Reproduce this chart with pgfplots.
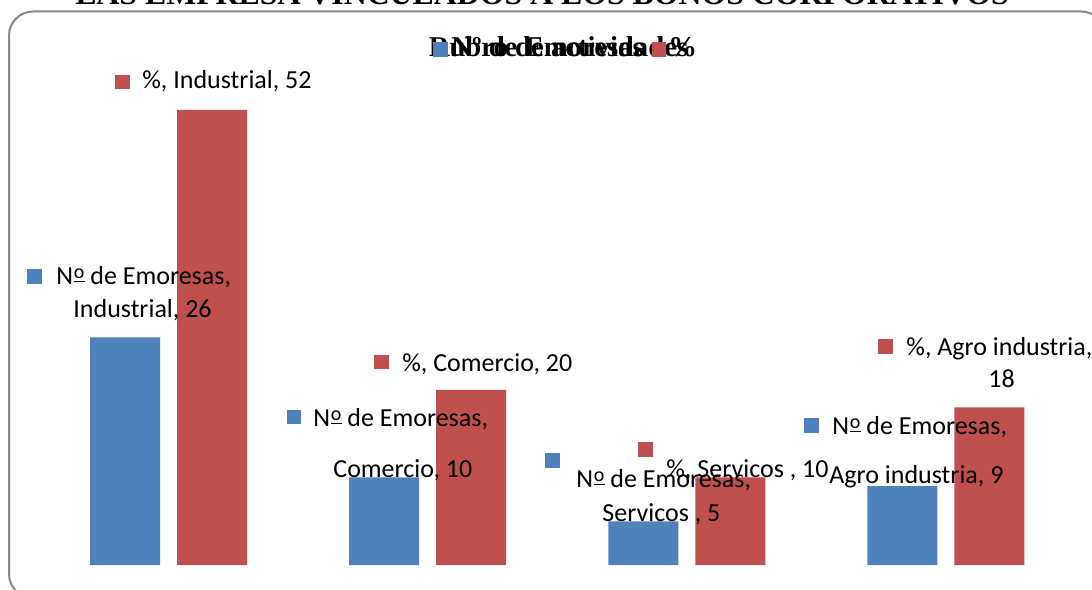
\documentclass[border=0pt]{standalone}
\usepackage{pgfplots}
\pgfplotsset{compat=1.18}
\usepackage{fontspec}
\setmainfont{Carlito}
\newfontfamily\tnr{Liberation Serif}
\definecolor{cblue}{HTML}{4F81BD}
\definecolor{cred}{HTML}{C0504D}
\definecolor{bordergray}{HTML}{878787}
\newcommand\lbl{\fontsize{13}{15.6}\selectfont}
\newcommand\nro{N\kern0.4pt\raisebox{0.26em}{$\underline{\hbox{\fontsize{10}{10}\selectfont o}}$}}
\begin{document}
\begin{tikzpicture}
\path[use as bounding box, clip] (0,0) rectangle (546pt,294.5pt);
\begin{scope}[shift={(0pt,294.5pt)}, x=0.5pt, y=-0.5pt]
  \draw[bordergray, line width=1pt, rounded corners=12pt] (9,11.5) rectangle (1105,598);
  \node[anchor=base, inner sep=0pt, font={\tnr\bfseries\fontsize{15.9}{18}\selectfont}] at (542,4.5) {LAS EMPRESA VINCULADOS A LOS BONOS CORPORATIVOS};
\end{scope}
\begin{axis}[
  at={(19.5pt,12pt)}, anchor=south west,
  scale only axis, width=518.25pt, height=262.5pt,
  xmin=-0.5, xmax=3.5, ymin=0, ymax=60,
  hide axis, clip=false,
  ybar=8.5pt, bar width=35pt,
  xtick={0,1,2,3},
  xticklabels={Industrial, Comercio, Servicos, Agro industria},
]
\addplot[fill=cblue, draw=none] coordinates {(0,26) (1,10) (2,5) (3,9)};
\addplot[fill=cred, draw=none] coordinates {(0,52) (1,20) (2,10) (3,18)};
\end{axis}
\begin{scope}[shift={(0pt,294.5pt)}, x=0.5pt, y=-0.5pt]
  % chart title and legend (overlapping as in the original)
  \node[anchor=base, inner sep=0pt, font={\tnr\bfseries\fontsize{14.35}{17}\selectfont}] at (558.5,57) {Rubro de actividades};
  \fill[cblue] (433,42) rectangle (448,57);
  \fill[cred] (652,42) rectangle (666,57);
  \node[anchor=base west, inner sep=0pt, font={\tnr\bfseries\fontsize{14.35}{17}\selectfont}] at (451,57) {Nº de Emoresas};
  \node[anchor=base west, inner sep=0pt, font={\tnr\bfseries\fontsize{14.35}{17}\selectfont}] at (668,57) {\%};
  % data labels
  \tikzset{dl/.style={anchor=base west, inner sep=0pt, font=\lbl}}
  % Industrial
  \fill[cred] (115,75) rectangle (130,89);
  \node[dl] at (142,89) {\%, Industrial, 52};
  \fill[cblue] (27,269) rectangle (42,284);
  \node[dl] at (56,285) {\nro{} de Emoresas,};
  \node[dl] at (73,318) {Industrial, 26};
  % Comercio
  \fill[cred] (374,355) rectangle (389,369);
  \node[dl] at (402,372) {\%, Comercio, 20};
  \fill[cblue] (287,410) rectangle (301,424);
  \node[dl] at (313,427) {\nro{} de Emoresas,};
  \node[dl] at (333,477) {Comercio, 10};
  % Servicos
  \fill[cred] (638,442) rectangle (653,457);
  \node[dl] at (666,477) {\%, Servicos , 10};
  \fill[cblue] (545,453) rectangle (560,468);
  \node[dl] at (576,488) {\nro{} de Emoresas,};
  \node[dl] at (602,521) {Servicos , 5};
  % Agro industria
  \fill[cred] (878,339) rectangle (893,354);
  \node[dl] at (906,356) {\%, Agro industria,};
  \node[dl] at (988,388) {18};
  \fill[cblue] (804,418) rectangle (819,433);
  \node[dl] at (832,435) {\nro{} de Emoresas,};
  \node[dl] at (829,484) {Agro industria, 9};
\end{scope}
\end{tikzpicture}
\end{document}
